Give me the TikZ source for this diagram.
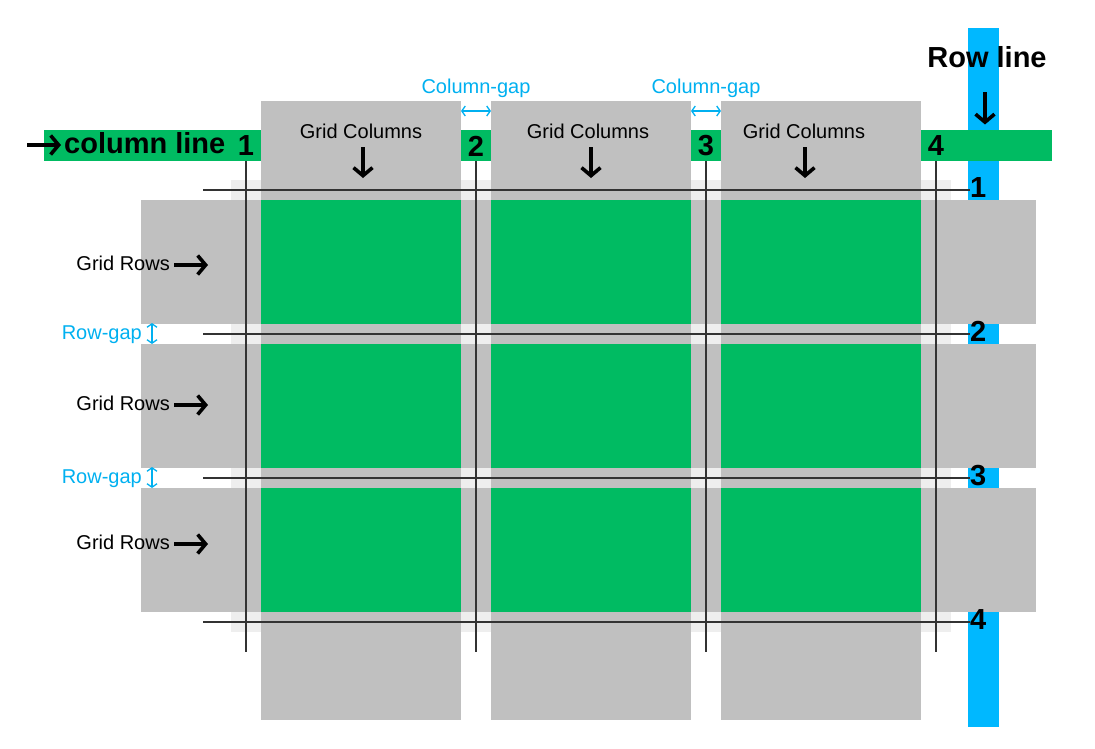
\documentclass[tikz,border=0pt]{standalone}
\usepackage{fontspec}
\setmainfont{Liberation Sans}
\usetikzlibrary{arrows.meta}
\definecolor{cellgreen}{RGB}{0,187,98}
\definecolor{bargray}{RGB}{192,192,192}
\definecolor{gapgray}{RGB}{238,238,238}
\definecolor{lineblue}{RGB}{0,184,255}
\definecolor{gapblue}{RGB}{0,176,240}
\definecolor{gridline}{RGB}{51,51,51}

\begin{document}
\begin{tikzpicture}[x=1pt,y=-1pt,
    bigarrow/.style={line width=3.6pt,-{Straight Barb[length=8pt,width=19pt]}},
    gaparrow/.style={gapblue,line width=1.3pt,{Straight Barb[length=3.5pt,width=10pt]}-{Straight Barb[length=3.5pt,width=10pt]}},
    gridnum/.style={font=\fontsize{29}{29}\selectfont\bfseries,inner sep=0pt},
    lbl/.style={font=\fontsize{20}{20}\selectfont,inner sep=0pt},
    gaplbl/.style={lbl,text=gapblue}]
  \useasboundingbox (0,0) rectangle (1095,748);
  % background
  \fill[gapgray] (231,180) rectangle (951,632);
  \fill[lineblue] (968,28) rectangle (999,727);
  \fill[cellgreen] (44,130) rectangle (1052,161);
  \foreach \y in {200,344,488} \fill[bargray] (141,\y) rectangle (1036,\y+124);
  \foreach \x in {261,491,721} \fill[bargray] (\x,101) rectangle (\x+200,720);
  \foreach \x in {261,491,721}
    \foreach \y in {200,344,488}
      \fill[cellgreen] (\x,\y) rectangle (\x+200,\y+124);
  % grid lines and their numbers
  \foreach \x [count=\i] in {246,476,706,936} {
    \node[gridnum] (cnum\i) at (\x,146) {\i};
    \draw[gridline,line width=2pt] (\x,161) -- (\x,652);
  }
  \foreach \y [count=\i] in {190,334,478,622} {
    \node[gridnum,anchor=west] (rnum\i) at (970,\y-2.5) {\i};
    \draw[gridline,line width=2pt] (203,\y) -- (rnum\i.west |- 0,\y);
  }
  % line titles
  \node[gridnum,anchor=base west] (colline) at (64,153) {column line};
  \coordinate (collinetail) at (27,145);
  \draw[bigarrow] (collinetail) -- ([xshift=-3pt]colline.west |- collinetail);
  \node[gridnum,anchor=base] (rowline) at (987,67) {Row line};
  \draw[bigarrow] ([xshift=-2pt,yshift=-25pt]rowline.south) -- ++(0,32);
  % tracks
  \foreach \x/\a [count=\i] in {361/363,588/591,804/805} {
    \node[lbl] (gcol\i) at (\x,131) {Grid Columns};
    \draw[bigarrow] (\a,147) -- (\a,178);
  }
  \foreach \y [count=\i] in {263,403,542} {
    \node[lbl,anchor=east] (grow\i) at (170,\y) {Grid Rows};
    \draw[bigarrow] ([xshift=4pt,yshift=-2pt]grow\i.east) -- ++(34,0);
  }
  % gaps
  \foreach \x [count=\i] in {476,706} {
    \node[gaplbl,anchor=base] (cgap\i) at (\x,93) {Column-gap};
    \draw[gaparrow] (\x-15,111) -- (\x+15,111);
  }
  \foreach \y [count=\i] in {339,483} {
    \node[gaplbl,anchor=base east] (rgap\i) at (142,\y) {Row-gap};
    \draw[gaparrow] (152,\y-16) -- (152,\y+5);
  }
\end{tikzpicture}
\end{document}
